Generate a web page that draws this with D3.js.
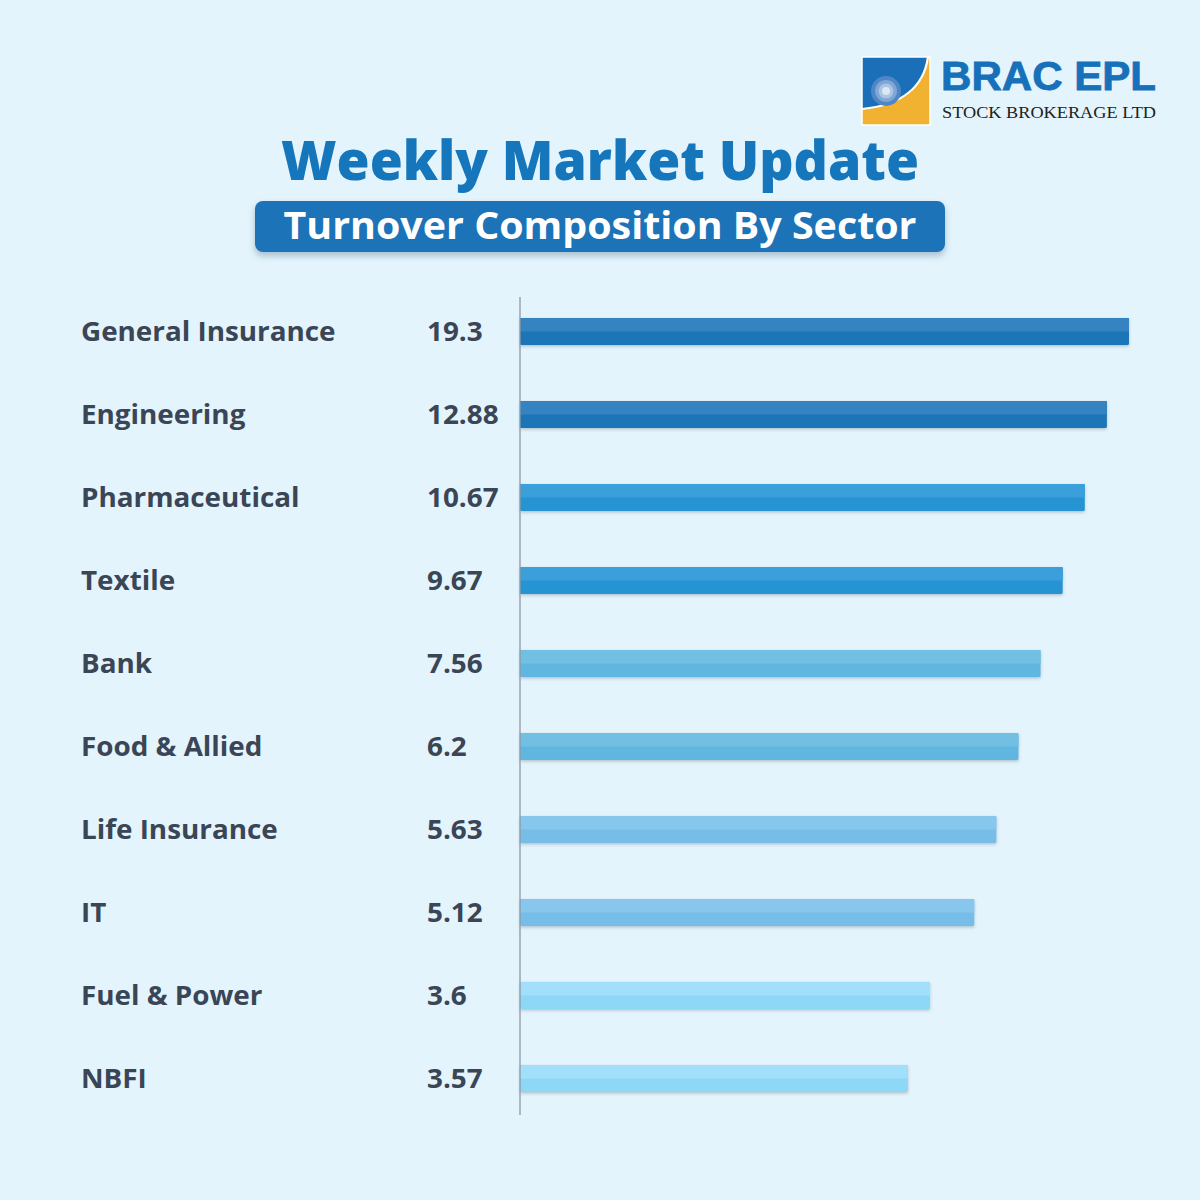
<!DOCTYPE html>
<html>
<head>
<meta charset="utf-8">
<script src="https://cdn.jsdelivr.net/npm/d3@7"></script>
<style>
  html, body { margin: 0; padding: 0; background: #e4f4fc; }
  svg { display: block; }
</style>
</head>
<body>
<div id="chart"></div>
<script>
// ── Data ──────────────────────────────────────────────────────────────────
const sectors = ['General Insurance', 'Engineering', 'Pharmaceutical', 'Textile', 'Bank',
  'Food & Allied', 'Life Insurance', 'IT', 'Fuel & Power', 'NBFI'];
const turnover = [19.3, 12.88, 10.67, 9.67, 7.56, 6.2, 5.63, 5.12, 3.6, 3.57];
const valueLabels = ['19.3', '12.88', '10.67', '9.67', '7.56', '6.2', '5.63', '5.12', '3.6', '3.57'];
// bar lengths in the picture are a ranked "level", not proportional to turnover
const barLevel = [28, 27, 26, 25, 24, 23, 22, 21, 19, 18];

// light / dark halves for each pair of bars
const bandTop = ['#3584c1', '#3b9fd9', '#71c0e4', '#88c7ed', '#a1dffb'];
const bandBottom = ['#1c74b7', '#2594d3', '#60b6df', '#76bde8', '#8dd7f7'];

const W = 1200, H = 1200;
const fontSans = "'Open Sans', 'Noto Sans', sans-serif";
const labelStretch = 1.07; // reference face runs wider than Open Sans

const svg = d3.select('#chart').append('svg')
  .attr('width', W).attr('height', H);

svg.append('rect').attr('width', W).attr('height', H).attr('fill', '#e4f4fc');

const defs = svg.append('defs');
const shadow = defs.append('filter').attr('id', 'bar-shadow')
  .attr('x', '-5%').attr('y', '-40%').attr('width', '110%').attr('height', '180%');
shadow.append('feDropShadow')
  .attr('dx', 0).attr('dy', 1.5).attr('stdDeviation', 1.5)
  .attr('flood-color', '#345').attr('flood-opacity', 0.28);

const boxShadow = defs.append('filter').attr('id', 'box-shadow')
  .attr('x', '-5%').attr('y', '-20%').attr('width', '110%').attr('height', '160%');
boxShadow.append('feDropShadow')
  .attr('dx', 0).attr('dy', 4).attr('stdDeviation', 3)
  .attr('flood-color', '#246').attr('flood-opacity', 0.3);

// ── Logo ──────────────────────────────────────────────────────────────────
const logo = svg.append('g').attr('transform', 'translate(862,57)');
const lw = 68;
const clip = defs.append('clipPath').attr('id', 'logo-clip');
clip.append('rect').attr('width', lw).attr('height', lw);
const lg = logo.append('g').attr('clip-path', 'url(#logo-clip)');
lg.append('rect').attr('width', lw).attr('height', lw).attr('fill', '#f2b231');
lg.append('path').attr('d', 'M0,0 L66,0 C62,28 42,48 0,52 Z').attr('fill', '#1a6fb8');
lg.append('path').attr('d', 'M66,0 C62,28 42,48 0,52')
  .attr('fill', 'none').attr('stroke', '#fff').attr('stroke-width', 2.2);
// concentric glow rings
[15, 11, 7.5, 4].forEach((r, k) => {
  lg.append('circle').attr('cx', 24).attr('cy', 34).attr('r', r)
    .attr('fill', ['#4f86c6', '#7ea6d6', '#aac4e4', '#dbe7f4'][k]);
});
logo.append('rect').attr('width', lw).attr('height', lw)
  .attr('fill', 'none').attr('stroke', '#fff').attr('stroke-width', 1.5);

svg.append('text')
  .attr('x', 941).attr('y', 90)
  .attr('font-family', "'Liberation Sans', Arial, sans-serif")
  .attr('font-weight', 700).attr('font-size', 40)
  .attr('fill', '#1670ba')
  .attr('stroke', '#1670ba').attr('stroke-width', 0.8)
  .attr('textLength', 215).attr('lengthAdjust', 'spacingAndGlyphs')
  .text('BRAC EPL');

svg.append('text')
  .attr('x', 942).attr('y', 118)
  .attr('font-family', "'Liberation Serif', 'DejaVu Serif', serif")
  .attr('font-size', 17.5)
  .attr('fill', '#222')
  .attr('textLength', 214).attr('lengthAdjust', 'spacingAndGlyphs')
  .text('STOCK BROKERAGE LTD');

// ── Titles ────────────────────────────────────────────────────────────────
svg.append('text')
  .attr('x', 600).attr('y', 180)
  .attr('text-anchor', 'middle')
  .attr('font-family', fontSans)
  .attr('font-weight', 800).attr('font-size', 55)
  .attr('fill', '#1676bb')
  .attr('textLength', 638).attr('lengthAdjust', 'spacingAndGlyphs')
  .text('Weekly Market Update');

svg.append('rect')
  .attr('x', 255).attr('y', 201).attr('width', 690).attr('height', 51)
  .attr('rx', 8).attr('fill', '#1a73b8')
  .attr('filter', 'url(#box-shadow)');

svg.append('text')
  .attr('x', 600).attr('y', 239)
  .attr('text-anchor', 'middle')
  .attr('font-family', fontSans)
  .attr('font-weight', 700).attr('font-size', 37)
  .attr('fill', '#ffffff')
  .attr('textLength', 633).attr('lengthAdjust', 'spacingAndGlyphs')
  .text('Turnover Composition By Sector');

// ── Scales ────────────────────────────────────────────────────────────────
const axisX = 520;
const y = d3.scaleBand()
  .domain(sectors)
  .range([318, 1092])
  .paddingInner(0.675)
  .paddingOuter(0);

const x = d3.scaleLinear()
  .domain([0, 28])
  .range([510, 1129]);

const barH = y.bandwidth();

// ── Rows ──────────────────────────────────────────────────────────────────
const rows = svg.append('g').selectAll('g.row')
  .data(sectors.map((s, i) => ({ sector: s, value: turnover[i], label: valueLabels[i], level: barLevel[i], i })))
  .join('g')
  .attr('class', 'row')
  .attr('transform', d => `translate(0,${y(d.sector)})`);

const stretch = function() {
  d3.select(this)
    .attr('textLength', this.getComputedTextLength() * labelStretch)
    .attr('lengthAdjust', 'spacingAndGlyphs');
};

rows.append('text')
  .attr('x', 81).attr('y', barH / 2 + 9.5)
  .attr('font-family', fontSans)
  .attr('font-weight', 700).attr('font-size', 26)
  .attr('fill', '#3a4556')
  .text(d => d.sector)
  .each(stretch);

rows.append('text')
  .attr('x', 427).attr('y', barH / 2 + 9.5)
  .attr('font-family', fontSans)
  .attr('font-weight', 700).attr('font-size', 26)
  .attr('fill', '#3a4556')
  .text(d => d.label)
  .each(stretch);

const bars = rows.append('g').attr('filter', 'url(#bar-shadow)');
bars.append('rect')
  .attr('x', axisX).attr('y', 0)
  .attr('width', d => x(d.level) - axisX)
  .attr('height', barH)
  .attr('rx', 1.5)
  .attr('fill', d => bandBottom[Math.floor(d.i / 2)]);
bars.append('rect')
  .attr('x', axisX).attr('y', 0)
  .attr('width', d => x(d.level) - axisX)
  .attr('height', barH / 2)
  .attr('fill', d => bandTop[Math.floor(d.i / 2)]);

// ── Axis line ─────────────────────────────────────────────────────────────
svg.append('line')
  .attr('x1', axisX).attr('x2', axisX)
  .attr('y1', 297).attr('y2', 1115)
  .attr('stroke', '#8d98a4').attr('stroke-width', 1.3);
</script>
</body>
</html>
